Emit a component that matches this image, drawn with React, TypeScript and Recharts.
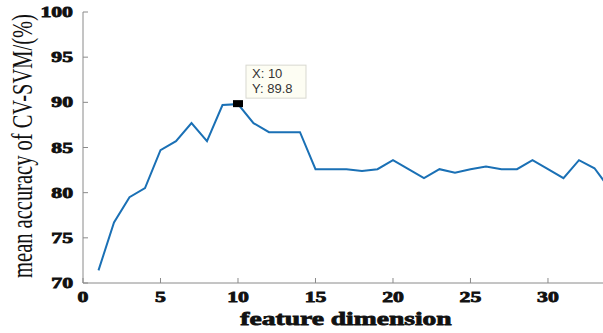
import { LineChart, Line, XAxis, YAxis, ReferenceDot, Label } from 'recharts'

// feature dimension vs. mean CV-SVM accuracy (%)
const dims = [
  1, 2, 3, 4, 5, 6, 7, 8, 9, 10, 11, 12, 13, 14, 15, 16, 17, 18, 19, 20, 21, 22, 23, 24, 25, 26, 27,
  28, 29, 30, 31, 32, 33, 34,
]
const accuracy = [
  71.4, 76.7, 79.5, 80.5, 84.7, 85.7, 87.7, 85.7, 89.7, 89.8, 87.7, 86.7, 86.7, 86.7, 82.6, 82.6,
  82.6, 82.4, 82.6, 83.6, 82.6, 81.6, 82.6, 82.2, 82.6, 82.9, 82.6, 82.6, 83.6, 82.6, 81.6, 83.6,
  82.7, 80.4,
]
const xTicks = [0, 5, 10, 15, 20, 25, 30]
const yTicks = [70, 75, 80, 85, 90, 95, 100]
const tipIndex = 9

const data = dims.map((d, i) => ({ dim: d, acc: accuracy[i] }))

const SERIF = '"Liberation Serif", "Times New Roman", serif'
const AXIS = '#8a8a8a'
const BLUE = '#1a70b5'
// the text in this figure is drawn wide
const STRETCH = 1.45

const boldText = {
  fontFamily: SERIF,
  fontWeight: 700,
  fill: '#111',
  stroke: '#111',
  strokeWidth: 0.8,
}

// y tick mark + label, placed at (xmin, value) through the chart scales
const YTickShape = (value: number) => ({ cx, cy }: any) => (
  <g>
    <line x1={cx} y1={cy} x2={cx + 5} y2={cy} stroke={AXIS} />
    <text
      transform={`translate(${cx - 10},${cy + 5}) scale(${STRETCH},1)`}
      textAnchor="end"
      style={{ ...boldText, fontSize: 15 }}
    >
      {value}
    </text>
  </g>
)

const renderXTick = ({ x, y, payload }: any) => (
  <g key={`x-${payload.value}`}>
    <line x1={x} y1={y} x2={x} y2={y - 5} stroke={AXIS} />
    <text
      transform={`translate(${x},${y + 19}) scale(${STRETCH},1)`}
      textAnchor="middle"
      style={{ ...boldText, fontSize: 15 }}
    >
      {payload.value}
    </text>
  </g>
)

const renderTopTick = ({ x, y, payload }: any) => (
  <line key={`t-${payload.value}`} x1={x} y1={y} x2={x} y2={y + 5} stroke={AXIS} />
)

function DataTip({ cx, cy }: any) {
  const p = data[tipIndex]
  return (
    <g>
      <rect x={cx - 5} y={cy - 4} width={10} height={7} fill="#000" />
      <rect x={cx + 8} y={cy - 39} width={60} height={33} fill="#fdfdf3" stroke="#d8d8d0" />
      <text x={cx + 14} y={cy - 26} fontFamily="Arial, Liberation Sans, sans-serif" fontSize={13} fill="#333">
        X: {p.dim}
      </text>
      <text x={cx + 14} y={cy - 11} fontFamily="Arial, Liberation Sans, sans-serif" fontSize={13} fill="#333">
        Y: {p.acc}
      </text>
    </g>
  )
}

export default function App() {
  return (
    <div style={{ position: 'absolute', left: 0, top: 0, background: '#fff' }}>
      <LineChart width={603} height={333} data={data} margin={{ top: 12, right: 0, left: 0, bottom: 0 }}>
        <XAxis
          dataKey="dim"
          type="number"
          domain={[0, 33.55]}
          allowDataOverflow
          ticks={xTicks}
          interval={0}
          height={50}
          stroke={AXIS}
          tickSize={0}
          tickMargin={0}
          tickLine={false}
          tick={renderXTick}
        >
          <Label
            content={() => (
              <text
                transform={`translate(346,325) scale(${STRETCH},1)`}
                textAnchor="middle"
                style={{ ...boldText, fontSize: 19 }}
              >
                feature dimension
              </text>
            )}
          />
        </XAxis>
        <XAxis
          xAxisId="top"
          orientation="top"
          dataKey="dim"
          type="number"
          domain={[0, 33.55]}
          allowDataOverflow
          ticks={xTicks}
          height={0}
          stroke={AXIS}
          tickSize={0}
          tickMargin={0}
          tickLine={false}
          tick={renderTopTick}
        />
        <YAxis
          type="number"
          domain={[70, 100]}
          ticks={yTicks}
          interval={0}
          width={83}
          stroke={AXIS}
          tick={false}
          tickLine={false}
        >
          <Label
            content={() => (
              <text
                transform={`translate(32,146) rotate(-90) scale(1,${STRETCH})`}
                textAnchor="middle"
                style={{ fontFamily: SERIF, fontSize: 20.5, fill: '#111' }}
              >
                mean accuracy of CV-SVM/(%)
              </text>
            )}
          />
        </YAxis>
        <Line
          dataKey="acc"
          stroke={BLUE}
          strokeWidth={2}
          dot={false}
          isAnimationActive={false}
        />
        {yTicks.map((v) => (
          <ReferenceDot key={v} x={0} y={v} ifOverflow="visible" shape={YTickShape(v)} />
        ))}
        <ReferenceDot x={data[tipIndex].dim} y={data[tipIndex].acc} shape={<DataTip />} />
      </LineChart>
    </div>
  )
}
